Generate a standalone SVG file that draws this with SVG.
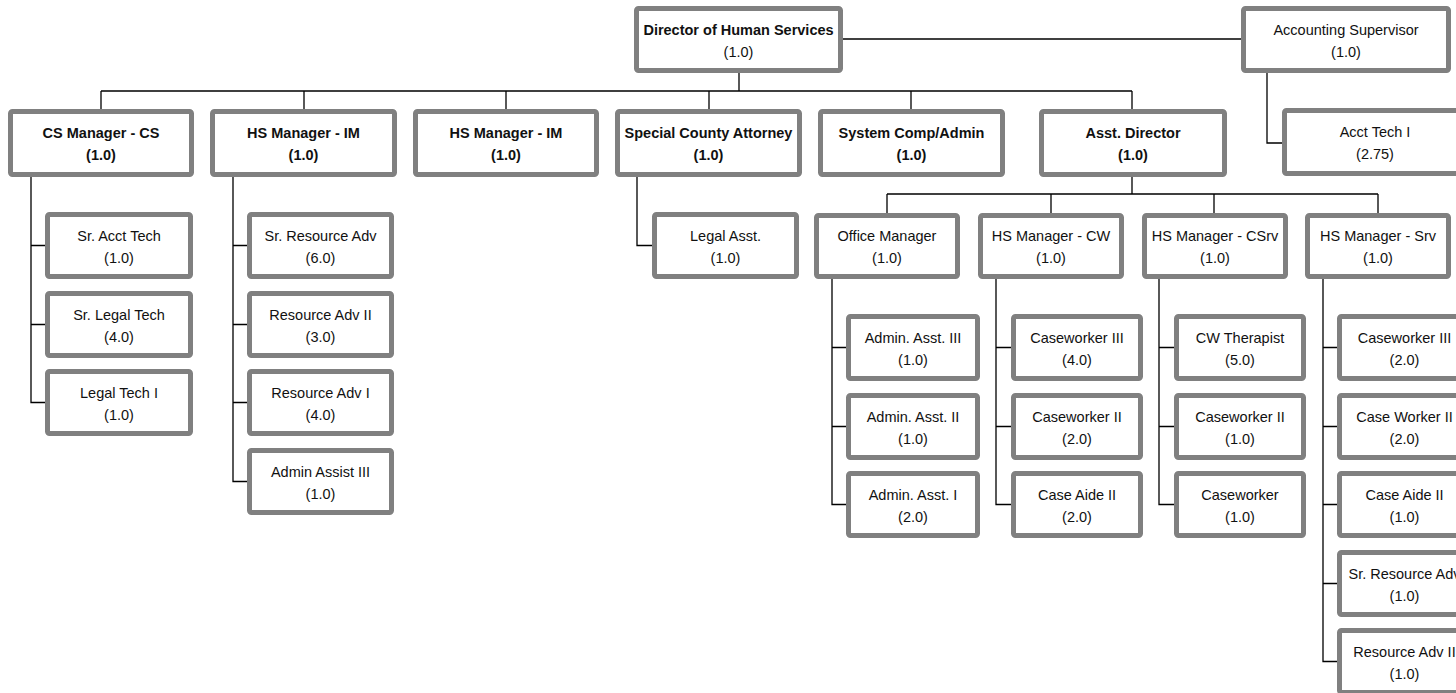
<svg xmlns="http://www.w3.org/2000/svg" width="1456" height="693" viewBox="0 0 1456 693">
<style>
.box{fill:#fff;stroke:#808080;stroke-width:5}
.t{font-family:"Liberation Sans",Arial,sans-serif;font-size:14.5px;fill:#111;text-anchor:middle}
.b{font-weight:bold}
.ln{stroke:#000;stroke-width:1.3;fill:none}
</style>
<rect width="1456" height="693" fill="#fff"/>
<g id="connectors" class="ln">
<path d="M843 39H1241"/>
<path d="M739 73V91M101 91H1132M101 91V109M304 91V109M506 91V109M709 91V109M911 91V109M1132 91V109"/>
<path d="M1267 73V143H1282"/>
<path d="M31 177V402.5H45M31 245.5H45M31 324.5H45"/>
<path d="M233 177V481.5H247M233 245.5H247M233 324.5H247M233 402.5H247"/>
<path d="M637 177V245.5H652"/>
<path d="M1132 177V194M887 194H1378M887 194V213M1051 194V213M1214 194V213M1378 194V213"/>
<path d="M832 279V504.5H846M832 347.5H846M832 426.5H846"/>
<path d="M996 279V504.5H1011M996 347.5H1011M996 426.5H1011"/>
<path d="M1159 279V504.5H1174M1159 347.5H1174M1159 426.5H1174"/>
<path d="M1323 279V661.5H1337M1323 347.5H1337M1323 426.5H1337M1323 504.5H1337M1323 583.5H1337"/>
</g>
<g id="director"><rect class="box" x="636.5" y="8.5" width="204" height="62" rx="2"/><text class="t b" x="738.5" y="34.5">Director of Human Services</text><text class="t" x="738.5" y="56.5">(1.0)</text></g>
<g id="accounting-supervisor"><rect class="box" x="1243.5" y="8.5" width="205" height="62" rx="2"/><text class="t" x="1346" y="34.5">Accounting Supervisor</text><text class="t" x="1346" y="56.5">(1.0)</text></g>
<g id="acct-tech-i"><rect class="box" x="1284.5" y="110.5" width="181" height="63" rx="2"/><text class="t" x="1375" y="137">Acct Tech I</text><text class="t" x="1375" y="159">(2.75)</text></g>

<g id="cs-manager"><rect class="box" x="10.5" y="111.5" width="181" height="63" rx="2"/><text class="t b" x="101" y="138">CS Manager - CS</text><text class="t b" x="101" y="160">(1.0)</text></g>
<g id="hs-manager-im-1"><rect class="box" x="212.5" y="111.5" width="182" height="63" rx="2"/><text class="t b" x="303.5" y="138">HS Manager - IM</text><text class="t b" x="303.5" y="160">(1.0)</text></g>
<g id="hs-manager-im-2"><rect class="box" x="415.5" y="111.5" width="181" height="63" rx="2"/><text class="t b" x="506" y="138">HS Manager - IM</text><text class="t b" x="506" y="160">(1.0)</text></g>
<g id="special-county-attorney"><rect class="box" x="617.5" y="111.5" width="182" height="63" rx="2"/><text class="t b" x="708.5" y="138">Special County Attorney</text><text class="t b" x="708.5" y="160">(1.0)</text></g>
<g id="system-comp-admin"><rect class="box" x="820.5" y="111.5" width="182" height="63" rx="2"/><text class="t b" x="911.5" y="138">System Comp/Admin</text><text class="t b" x="911.5" y="160">(1.0)</text></g>
<g id="asst-director"><rect class="box" x="1041.5" y="111.5" width="183" height="63" rx="2"/><text class="t b" x="1133" y="138">Asst. Director</text><text class="t b" x="1133" y="160">(1.0)</text></g>

<g id="office-manager"><rect class="box" x="816.5" y="215.5" width="141" height="61" rx="2"/><text class="t" x="887" y="241">Office Manager</text><text class="t" x="887" y="263">(1.0)</text></g>
<g id="hs-manager-cw"><rect class="box" x="980.5" y="215.5" width="141" height="61" rx="2"/><text class="t" x="1051" y="241">HS Manager - CW</text><text class="t" x="1051" y="263">(1.0)</text></g>
<g id="hs-manager-csrv"><rect class="box" x="1144.5" y="215.5" width="141" height="61" rx="2"/><text class="t" x="1215" y="241">HS Manager - CSrv</text><text class="t" x="1215" y="263">(1.0)</text></g>
<g id="hs-manager-srv"><rect class="box" x="1307.5" y="215.5" width="141" height="61" rx="2"/><text class="t" x="1378" y="241">HS Manager - Srv</text><text class="t" x="1378" y="263">(1.0)</text></g>

<g id="sr-acct-tech"><rect class="box" x="47.5" y="214.5" width="143" height="62" rx="2"/><text class="t" x="119" y="240.5">Sr. Acct Tech</text><text class="t" x="119" y="263">(1.0)</text></g>
<g id="sr-legal-tech"><rect class="box" x="47.5" y="293.5" width="143" height="62" rx="2"/><text class="t" x="119" y="319.5">Sr. Legal Tech</text><text class="t" x="119" y="342">(4.0)</text></g>
<g id="legal-tech-i"><rect class="box" x="47.5" y="371.5" width="143" height="62" rx="2"/><text class="t" x="119" y="397.5">Legal Tech I</text><text class="t" x="119" y="420">(1.0)</text></g>

<g id="sr-resource-adv"><rect class="box" x="249.5" y="214.5" width="142" height="62" rx="2"/><text class="t" x="320.5" y="240.5">Sr. Resource Adv</text><text class="t" x="320.5" y="263">(6.0)</text></g>
<g id="resource-adv-ii"><rect class="box" x="249.5" y="293.5" width="142" height="62" rx="2"/><text class="t" x="320.5" y="319.5">Resource Adv II</text><text class="t" x="320.5" y="342">(3.0)</text></g>
<g id="resource-adv-i"><rect class="box" x="249.5" y="371.5" width="142" height="62" rx="2"/><text class="t" x="320.5" y="397.5">Resource Adv I</text><text class="t" x="320.5" y="420">(4.0)</text></g>
<g id="admin-assist-iii"><rect class="box" x="249.5" y="450.5" width="142" height="62" rx="2"/><text class="t" x="320.5" y="476.5">Admin Assist III</text><text class="t" x="320.5" y="499">(1.0)</text></g>

<g id="legal-asst"><rect class="box" x="654.5" y="214.5" width="142" height="62" rx="2"/><text class="t" x="725.5" y="240.5">Legal Asst.</text><text class="t" x="725.5" y="263">(1.0)</text></g>

<g id="admin-asst-iii"><rect class="box" x="848.5" y="316.5" width="129" height="62" rx="2"/><text class="t" x="913" y="342.5">Admin. Asst. III</text><text class="t" x="913" y="365">(1.0)</text></g>
<g id="admin-asst-ii"><rect class="box" x="848.5" y="395.5" width="129" height="62" rx="2"/><text class="t" x="913" y="421.5">Admin. Asst. II</text><text class="t" x="913" y="444">(1.0)</text></g>
<g id="admin-asst-i"><rect class="box" x="848.5" y="473.5" width="129" height="62" rx="2"/><text class="t" x="913" y="499.5">Admin. Asst. I</text><text class="t" x="913" y="522">(2.0)</text></g>

<g id="cw-caseworker-iii"><rect class="box" x="1013.5" y="316.5" width="127" height="62" rx="2"/><text class="t" x="1077" y="342.5">Caseworker III</text><text class="t" x="1077" y="365">(4.0)</text></g>
<g id="cw-caseworker-ii"><rect class="box" x="1013.5" y="395.5" width="127" height="62" rx="2"/><text class="t" x="1077" y="421.5">Caseworker II</text><text class="t" x="1077" y="444">(2.0)</text></g>
<g id="cw-case-aide-ii"><rect class="box" x="1013.5" y="473.5" width="127" height="62" rx="2"/><text class="t" x="1077" y="499.5">Case Aide II</text><text class="t" x="1077" y="522">(2.0)</text></g>

<g id="cw-therapist"><rect class="box" x="1176.5" y="316.5" width="127" height="62" rx="2"/><text class="t" x="1240" y="342.5">CW Therapist</text><text class="t" x="1240" y="365">(5.0)</text></g>
<g id="csrv-caseworker-ii"><rect class="box" x="1176.5" y="395.5" width="127" height="62" rx="2"/><text class="t" x="1240" y="421.5">Caseworker II</text><text class="t" x="1240" y="444">(1.0)</text></g>
<g id="csrv-caseworker"><rect class="box" x="1176.5" y="473.5" width="127" height="62" rx="2"/><text class="t" x="1240" y="499.5">Caseworker</text><text class="t" x="1240" y="522">(1.0)</text></g>

<g id="srv-caseworker-iii"><rect class="box" x="1339.5" y="316.5" width="130" height="62" rx="2"/><text class="t" x="1404.5" y="342.5">Caseworker III</text><text class="t" x="1404.5" y="365">(2.0)</text></g>
<g id="srv-case-worker-ii"><rect class="box" x="1339.5" y="395.5" width="130" height="62" rx="2"/><text class="t" x="1404.5" y="421.5">Case Worker II</text><text class="t" x="1404.5" y="444">(2.0)</text></g>
<g id="srv-case-aide-ii"><rect class="box" x="1339.5" y="473.5" width="130" height="62" rx="2"/><text class="t" x="1404.5" y="499.5">Case Aide II</text><text class="t" x="1404.5" y="522">(1.0)</text></g>
<g id="srv-sr-resource-adv"><rect class="box" x="1339.5" y="552.5" width="130" height="62" rx="2"/><text class="t" x="1404.5" y="578.5">Sr. Resource Adv</text><text class="t" x="1404.5" y="601">(1.0)</text></g>
<g id="srv-resource-adv-ii"><rect class="box" x="1339.5" y="630.5" width="130" height="62" rx="2"/><text class="t" x="1404.5" y="656.5">Resource Adv II</text><text class="t" x="1404.5" y="679">(1.0)</text></g>
</svg>
